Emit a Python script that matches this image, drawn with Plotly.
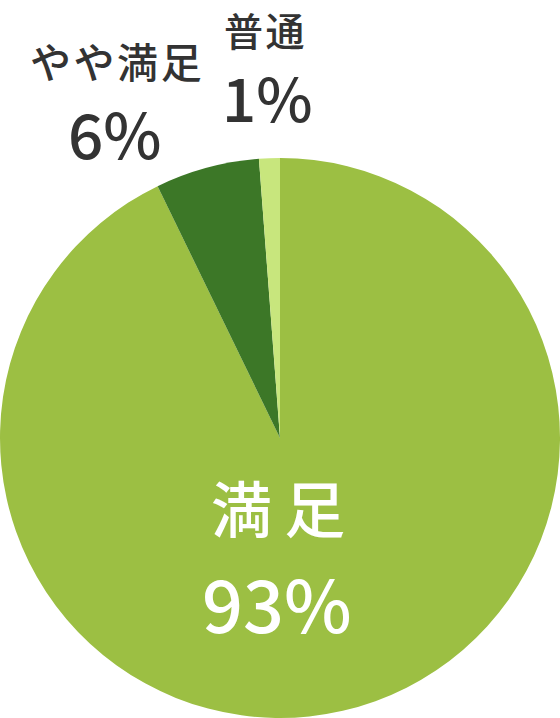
import plotly.graph_objects as go

labels = ["満足", "やや満足", "普通"]
values = [92.8, 6.0, 1.2]
pct_text = ["93%", "6%", "1%"]
colors = ["#9cbf43", "#3c7727", "#c8e67d"]

W, H = 560, 718
PIE_TOP = 158  # px from top

fig = go.Figure(go.Pie(
    labels=labels, values=values, sort=False, direction="clockwise", rotation=0,
    marker=dict(colors=colors, line=dict(width=0)),
    textinfo="none", hoverinfo="none", showlegend=False,
    domain=dict(x=[0, 1], y=[0, 1 - PIE_TOP / H]),
))

def py(y):
    return 1 - y / H

def spaced(s, sep="\u200a"):
    return sep.join(s)

font_base = "Noto Sans CJK JP, Noto Sans, sans-serif"
# (text, x px, y px, size, color)
ann_specs = [
    (spaced(labels[0], "\u2009"), 278, 506, 61, "#ffffff"),
    (pct_text[0], 277, 601, 72, "#ffffff"),
    (spaced(labels[1]), 116, 60, 41, "#333333"),
    (pct_text[1], 115, 132, 62, "#333333"),
    (spaced(labels[2]), 264, 29, 39, "#333333"),
    (pct_text[2], 267, 95, 60, "#333333"),
]
for t, x, y, s, c in ann_specs:
    fig.add_annotation(x=x / W, y=py(y), xref="paper", yref="paper", text=t,
                       showarrow=False, xanchor="center", yanchor="middle",
                       font=dict(family=font_base, size=s, color=c, weight=500))

fig.update_layout(width=W, height=H, margin=dict(l=0, r=0, t=0, b=0),
                  paper_bgcolor="white", plot_bgcolor="white")
fig.write_html("out.html", config={"displayModeBar": False},
               post_script="document.body.style.margin='0';document.body.style.overflow='hidden';")
